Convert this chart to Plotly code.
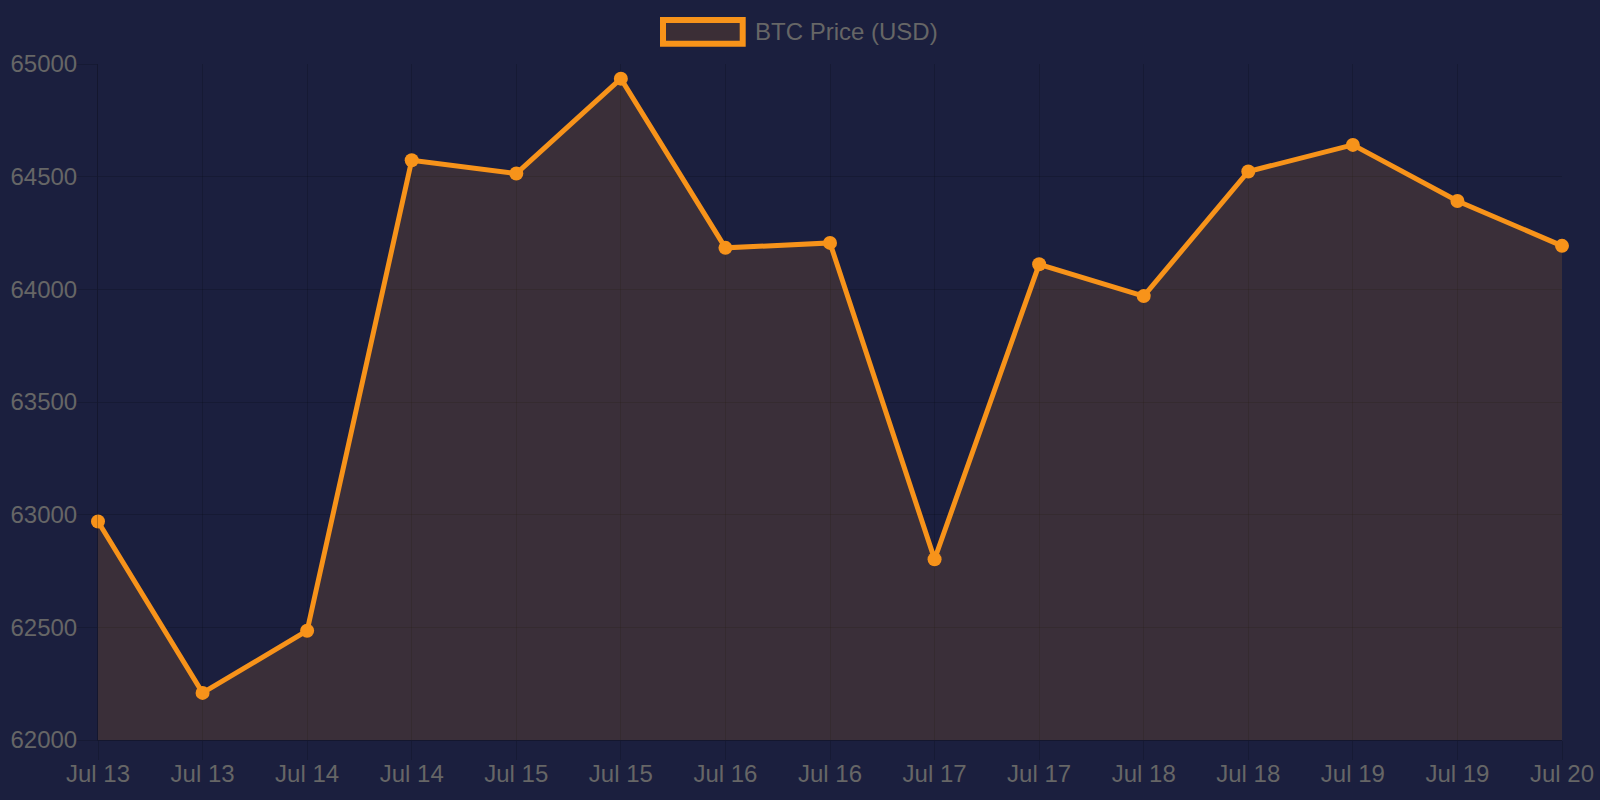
import plotly.graph_objects as go

labels = ["Jul 13", "Jul 13", "Jul 14", "Jul 14", "Jul 15", "Jul 15", "Jul 16", "Jul 16",
          "Jul 17", "Jul 17", "Jul 18", "Jul 18", "Jul 19", "Jul 19", "Jul 20"]
prices = [62970, 62209, 62485, 64573, 64514, 64935, 64184, 64206,
          62802, 64111, 63970, 64523, 64641, 64392, 64193]
y_ticks = [62000, 62500, 63000, 63500, 64000, 64500, 65000]
series_name = "BTC Price (USD)"

W, H = 1600, 800
L, R, T, B = 98, 1562, 64, 740
BG = "#1b1f3e"
ORANGE = "#f7931a"
FILL = "rgba(247,147,26,0.14)"
GRID = "rgba(0,0,0,0.15)"
TXT = "#666666"
FONT = "Liberation Sans, Arial, sans-serif"

idx = list(range(len(prices)))

fig = go.Figure()
fig.add_trace(go.Scatter(
    x=idx, y=prices, mode="lines+markers", name=series_name,
    line=dict(color=ORANGE, width=5),
    marker=dict(color=ORANGE, size=14),
    fill="tozeroy", fillcolor=FILL,
    cliponaxis=False, showlegend=False,
))

def px_x(p):
    return (p - L) / (R - L)

def px_y(p):
    return (B - p) / (B - T)

# legend drawn manually (Chart.js style)
fig.add_shape(type="rect", xref="paper", yref="paper",
              x0=px_x(663), x1=px_x(742.7), y0=px_y(43.7), y1=px_y(20),
              line=dict(color=ORANGE, width=6), fillcolor="#3b2e36", layer="above")
fig.add_annotation(xref="paper", yref="paper", x=px_x(753), y=px_y(32),
                   text=series_name, showarrow=False, xanchor="left", yanchor="middle",
                   font=dict(size=24, color=TXT, family=FONT))

fig.update_layout(
    width=W, height=H,
    margin=dict(l=L, r=W - R, t=T, b=H - B, autoexpand=False),
    paper_bgcolor=BG, plot_bgcolor=BG,
    font=dict(family=FONT, size=24, color=TXT),
    xaxis=dict(
        range=[0, len(prices) - 1], tickmode="array", tickvals=idx, ticktext=labels,
        showgrid=True, gridcolor=GRID, gridwidth=1, automargin=False,
        ticks="outside", ticklen=19, tickcolor=GRID, tickwidth=1,
        ticklabelstandoff=-7,
        showline=True, linecolor="rgba(0,0,0,0.25)", linewidth=1,
        zeroline=False, tickfont=dict(size=24, color=TXT),
    ),
    yaxis=dict(
        range=[62000, 65000], tickmode="array", tickvals=y_ticks,
        ticktext=[str(v) for v in y_ticks],
        showgrid=True, gridcolor=GRID, gridwidth=1, automargin=False,
        ticks="outside", ticklen=20, tickcolor=GRID, tickwidth=1,
        ticklabelstandoff=-5,
        showline=True, linecolor="rgba(0,0,0,0.25)", linewidth=1,
        zeroline=False, tickfont=dict(size=24, color=TXT),
    ),
)

fig.write_html("out.html")
